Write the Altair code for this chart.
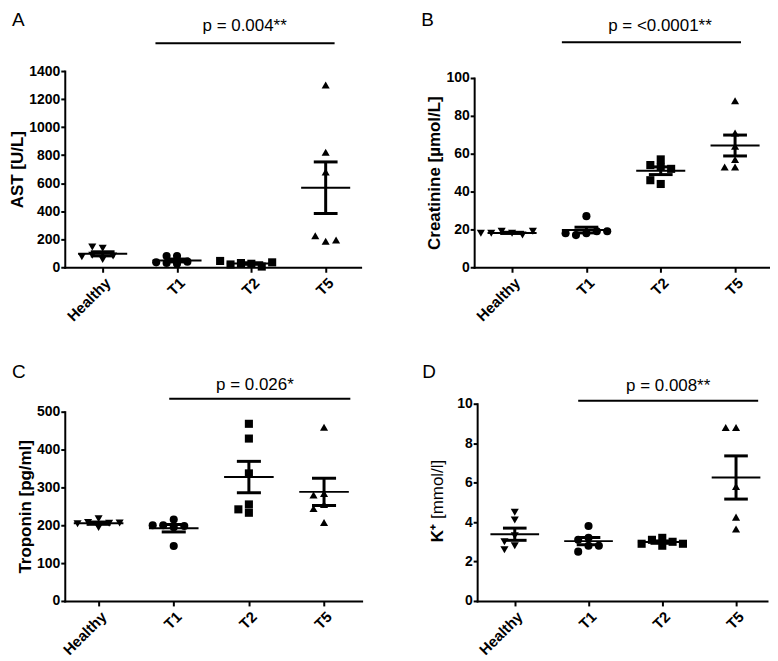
import json
import altair as alt
import pandas as pd

# ---------------- data ----------------
groups = ["Healthy", "T1", "T2", "T5"]
shapes = ["triangle-down", "circle", "square", "triangle-up"]

# A: AST [U/L]
ast_healthy = [135, 145, 55, 85, 80, 75]
ast_t1 = [80, 80, 25, 40, 30, 35]
ast_t2 = [25, 30, 5, 20, 35, 45]
ast_t5 = [1300, 820, 680, 185, 225, 195]

# B: Creatinine [umol/L]
creat_healthy = [18, 19, 17, 18, 19, 18]
creat_t1 = [27, 18, 17, 19, 18, 19]
creat_t2 = [57, 53, 54, 52, 44, 46]
creat_t5 = [88, 71, 64, 57, 53, 53]

# C: Troponin [pg/ml]
trop_healthy = [217, 207, 205, 204, 194, 206]
trop_t1 = [215, 200, 198, 200, 195, 145]
trop_t2 = [468, 429, 337, 255, 242, 233]
trop_t5 = [459, 284, 280, 255, 244, 207]

# D: K+ [mmol/l]
k_healthy = [4.5, 4.1, 3.3, 3.0, 2.8, 2.6]
k_t1 = [3.8, 3.2, 3.1, 2.8, 2.8, 2.5]
k_t2 = [3.2, 3.1, 3.0, 2.9, 2.9, 2.8]
k_t5 = [8.8, 8.8, 5.8, 4.25, 3.65]

p_texts = ["p = 0.004**", "p = <0.0001**", "p = 0.026*", "p = 0.008**"]

FONT = "Liberation Sans"
LABEL_EXPR = json.dumps(groups) + "[datum.value]"
SLOT = 0.14


def swarm(vals, px_per_unit, thresh=7.0):
    cands = [0, -1, 1, -2, 2, -3, 3]
    placed, out = [], []
    for v in vals:
        chosen = cands[-1]
        for c in cands:
            if all(s != c or abs(v - pv) * px_per_unit >= thresh for s, pv in placed):
                chosen = c
                break
        placed.append((chosen, v))
        out.append(chosen)
    return out


def panel(series, letter, ytitle, ymax, ystep, width, height, top_off, xdomain,
          pline, ptext, ptext_x, rel_letter, rel_ptext, rel_pline, two_part_title=None):
    rows = []
    ppu = (height - top_off) / ymax
    for gi, (g, vals) in enumerate(zip(groups, series)):
        slots = swarm(vals, ppu)
        for v, s in zip(vals, slots):
            rows.append({"group": g, "gidx": gi, "value": v, "xpos": gi + SLOT * s})
    df = pd.DataFrame(rows)

    xscale = alt.Scale(domain=xdomain, nice=False, zero=False)
    yscale = alt.Scale(domain=[0, ymax], nice=False, range=[height, top_off])
    xaxis = alt.Axis(values=[0, 1, 2, 3], labelExpr=LABEL_EXPR, title="",
                     labelAngle=-45, labelAlign="right", labelBaseline="top",
                     labelFontSize=15, labelPadding=3, tickSize=5,
                     labelFlush=False, labelOverlap=False, labelBound=False)
    yvals = [ystep * i for i in range(int(round(ymax / ystep)) + 1)]
    yaxis = alt.Axis(values=yvals, title=ytitle, format="d", labelFontSize=14,
                     labelPadding=1, tickSize=4, titleFontSize=17, titlePadding=2,
                     labelFlush=False, labelOverlap=False)

    def X(f):
        return alt.X(f + ":Q", scale=xscale, axis=xaxis)

    def Y(f):
        return alt.Y(f + ":Q", scale=yscale, axis=yaxis)

    pts = alt.Chart(df).mark_point(filled=True, opacity=1, size=66, color="black",
                                   strokeWidth=0).encode(
        x=X("xpos"), y=Y("value"),
        shape=alt.Shape("group:N", scale=alt.Scale(domain=groups, range=shapes), legend=None))

    agg = alt.Chart(df).transform_aggregate(
        m="mean(value)", se="stderr(value)", groupby=["gidx"]
    ).transform_calculate(
        a="datum.gidx - 0.33", b="datum.gidx + 0.33",
        c="datum.gidx - 0.16", d="datum.gidx + 0.16",
        lo="datum.m - datum.se", hi="datum.m + datum.se")

    mean = agg.mark_rule(strokeWidth=2, color="black").encode(x=X("a"), x2="b:Q", y=Y("m"))
    vbar = agg.mark_rule(strokeWidth=3, color="black").encode(x=X("gidx"), y=Y("lo"), y2="hi:Q")
    cap_lo = agg.mark_rule(strokeWidth=3, color="black").encode(x=X("c"), x2="d:Q", y=Y("lo"))
    cap_hi = agg.mark_rule(strokeWidth=3, color="black").encode(x=X("c"), x2="d:Q", y=Y("hi"))

    ann = pd.DataFrame({"x0": [pline[0]], "x1": [pline[1]], "xt": [ptext_x],
                        "txt": [ptext], "let": [letter]})
    pl = alt.Chart(ann).mark_rule(strokeWidth=2, color="black").encode(
        x=X("x0"), x2="x1:Q", y=alt.value(rel_pline))
    pt = alt.Chart(ann).mark_text(font=FONT, fontSize=17, align="center",
                                  baseline="alphabetic", color="black").encode(
        x=X("xt"), y=alt.value(rel_ptext), text="txt:N")
    lt = alt.Chart(ann).mark_text(font=FONT, fontSize=19, align="left",
                                  baseline="top", color="black").encode(
        x=alt.value(rel_letter[0]), y=alt.value(rel_letter[1]), text="let:N")

    layers = [pts, mean, vbar, cap_lo, cap_hi, pl, pt, lt]
    if two_part_title is not None:
        (t1, y1), (t2, y2) = two_part_title
        ttl = pd.DataFrame({"t1": [t1], "t2": [t2]})
        layers.append(alt.Chart(ttl).mark_text(font=FONT, fontSize=17, fontWeight="bold",
                                               angle=270, align="center", baseline="middle",
                                               color="black").encode(
            x=alt.value(-39), y=alt.value(y1), text="t1:N"))
        layers.append(alt.Chart(ttl).mark_text(font=FONT, fontSize=17, fontWeight="normal",
                                               angle=270, align="center", baseline="middle",
                                               color="black").encode(
            x=alt.value(-39), y=alt.value(y2), text="t2:N"))
    return alt.layer(*layers).properties(width=width, height=height)


A = panel([ast_healthy, ast_t1, ast_t2, ast_t5], "A", "AST [U/L]", 1400, 200,
          297, 197, 0, [-0.51, 3.47], (0.71, 3.12), p_texts[0], 1.91,
          (-53, -60), -40, -28)
B = panel([creat_healthy, creat_t1, creat_t2, creat_t5], "B", "Creatinine [µmol/L]", 100, 20,
          297, 197, 7, [-0.51, 3.47], (0.67, 3.08), p_texts[1], 1.99,
          (-53, -60), -40, -29)
C = panel([trop_healthy, trop_t1, trop_t2, trop_t5], "C", "Troponin [pg/ml]", 500, 100,
          298, 199, 9, [-0.45, 3.5], (0.94, 3.35), p_texts[2], 2.08,
          (-53, -40), -13, -4)
D = panel([k_healthy, k_t1, k_t2, k_t5], "D", "", 10, 2,
          291, 199, 1, [-0.51, 3.42], (0.86, 3.30), p_texts[3], 2.08,
          (-55, -40), -12, -2,
          two_part_title=(("K⁺", 131), ("[mmol/l]", 87)))

chart = alt.vconcat(
    alt.hconcat(A, B, spacing=61),
    alt.hconcat(C, D, spacing=61),
    spacing=39,
).properties(
    padding={"left": 0, "top": 2, "right": 0, "bottom": 0},
    background="white",
).configure_view(
    strokeWidth=0
).configure_axis(
    domainColor="black", domainWidth=2, domainCap="square",
    tickColor="black", tickWidth=2,
    labelColor="black", labelFont=FONT, labelFontWeight="bold",
    titleColor="black", titleFont=FONT, titleFontWeight="bold",
    grid=False,
)

chart.save("out.html", embed_options={"renderer": "svg", "actions": False})
